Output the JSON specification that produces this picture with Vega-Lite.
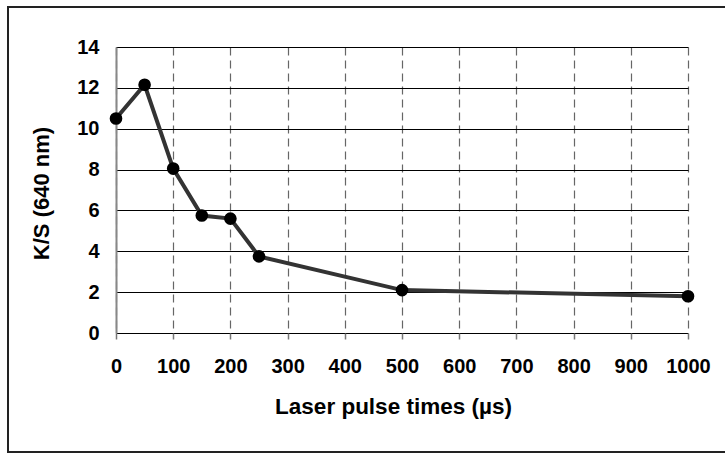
{
  "$schema": "https://vega.github.io/schema/vega-lite/v6.json",
  "width": 572,
  "height": 286,
  "autosize": {"type": "none"},
  "padding": {"left": 116, "top": 47, "right": 37, "bottom": 121},
  "background": "white",
  "config": {
    "view": {"stroke": null},
    "font": "Liberation Sans",
    "axis": {"labelFont": "Liberation Sans", "titleFont": "Liberation Sans", "labelFontWeight": "bold", "titleFontWeight": "bold", "labelColor": "black", "titleColor": "black"}
  },
  "layer": [
    {
      "data": {"values": [{"frame": 1}]},
      "mark": {"type": "rect", "fill": null, "stroke": "#222222", "strokeWidth": 2, "clip": false},
      "encoding": {
        "x": {"value": -108},
        "x2": {"value": 612},
        "y": {"value": -40},
        "y2": {"value": 405}
      }
    },
    {
      "data": {"values": [
        {"time": 0, "ks": 10.5},
        {"time": 50, "ks": 12.15},
        {"time": 100, "ks": 8.05},
        {"time": 150, "ks": 5.75},
        {"time": 200, "ks": 5.6},
        {"time": 250, "ks": 3.75},
        {"time": 500, "ks": 2.1},
        {"time": 1000, "ks": 1.8}
      ]},
      "layer": [
        {
          "mark": {"type": "line", "color": "#333333", "strokeWidth": 4},
          "encoding": {
            "x": {
              "field": "time", "type": "quantitative",
              "scale": {"domain": [0, 1000], "nice": false},
              "axis": {
                "title": "Laser pulse times (µs)",
                "format": "d",
                "values": [0, 100, 200, 300, 400, 500, 600, 700, 800, 900, 1000],
                "domain": false,
                "ticks": true, "tickSize": 6, "tickColor": "#777777", "tickWidth": 1.5,
                "grid": true, "gridColor": "#666666", "gridDash": [8, 5], "gridWidth": 1.2,
                "labelFontSize": 20, "labelBaseline": "alphabetic", "labelPadding": 33,
                "labelFlush": false, "labelOverlap": false,
                "titleFontSize": 22.5, "titleX": 277, "titleY": 80, "titleBaseline": "alphabetic", "titleAlign": "center"
              }
            },
            "y": {
              "field": "ks", "type": "quantitative",
              "scale": {"domain": [0, 14], "nice": false},
              "axis": {
                "title": "K/S (640 nm)",
                "values": [0, 2, 4, 6, 8, 10, 12, 14],
                "domain": true, "domainColor": "#888888", "domainWidth": 2,
                "ticks": false, "tickSize": 0,
                "grid": true, "gridColor": "black", "gridWidth": 1.2,
                "labelFontSize": 20, "labelPadding": 17, "labelBaseline": "middle",
                "labelFlush": false,
                "titleFontSize": 22, "titleX": -75, "titleY": 146, "titleAngle": -90, "titleBaseline": "middle", "titleAlign": "center"
              }
            }
          }
        },
        {
          "mark": {"type": "point", "filled": true, "color": "black", "opacity": 1, "size": 160},
          "encoding": {
            "x": {"field": "time", "type": "quantitative"},
            "y": {"field": "ks", "type": "quantitative"}
          }
        }
      ]
    }
  ]
}
